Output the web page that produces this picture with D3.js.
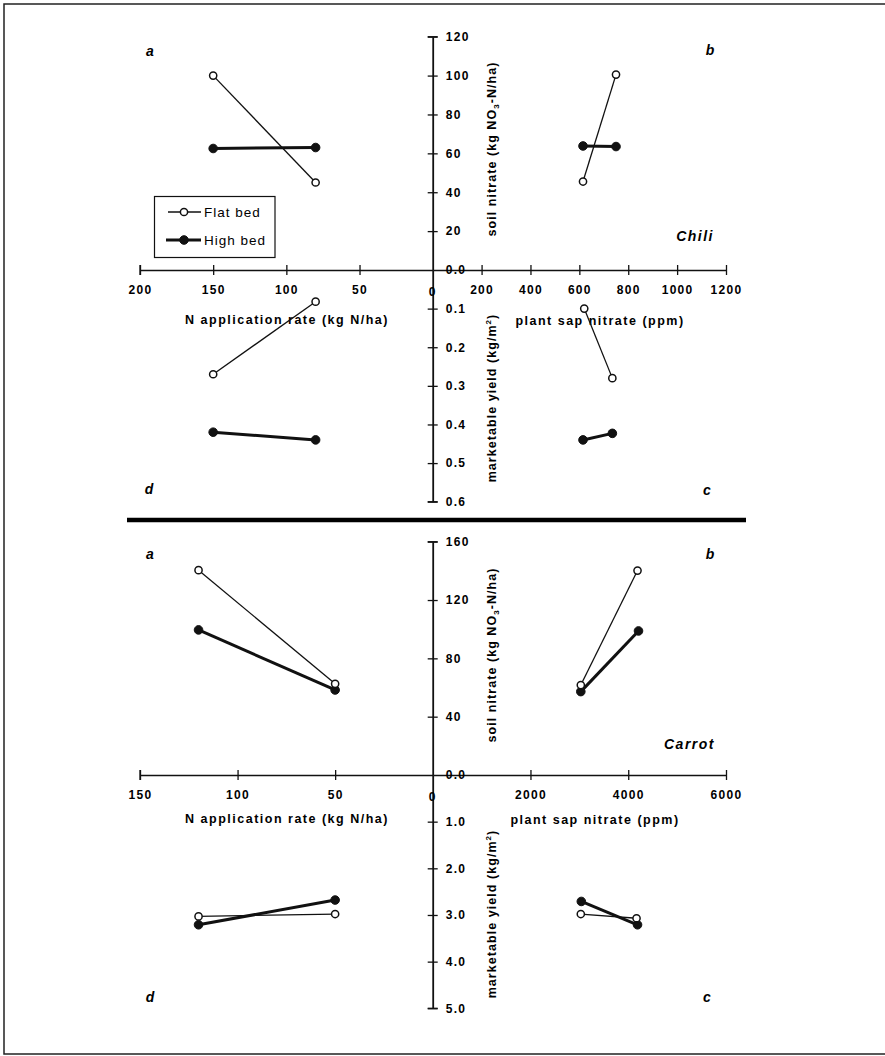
<!DOCTYPE html>
<html>
<head>
<meta charset="utf-8">
<script src="https://cdn.jsdelivr.net/npm/d3@7"></script>
<style>
  html, body { margin: 0; padding: 0; background: #fff; }
  svg { display: block; }
  text { font-family: "Liberation Sans", Arial, Helvetica, sans-serif; fill: #000; }
  .tick text { font-size: 12px; font-weight: bold; letter-spacing: 1.3px; }
  .zero { font-size: 12px; font-weight: bold; letter-spacing: 1.3px; }
  .title { font-size: 12.5px; font-weight: bold; letter-spacing: 1.5px; }
  .vtitle { font-size: 12.5px; font-weight: bold; letter-spacing: 1.05px; }
  .tag { font-size: 14px; font-weight: bold; font-style: italic; }
  .crop { font-size: 14px; font-weight: bold; font-style: italic; letter-spacing: 1.5px; }
  .legend text { font-size: 13.5px; letter-spacing: 1px; }
</style>
</head>
<body>
<svg id="chart" width="885" height="1056"></svg>
<script>
// ---------- Chili ----------
const chiliRate = [150, 80];                 // N application rate (kg N/ha)
const chiliRateTicks = [200, 150, 100, 50];
const chiliSapTicks = [200, 400, 600, 800, 1000, 1200];
const chiliSoilTicks = [20, 40, 60, 80, 100, 120];
const chiliYieldTicks = [0.1, 0.2, 0.3, 0.4, 0.5, 0.6];
// quadrant a: N rate vs soil nitrate
const chiliFlatSoilA = [100, 45];
const chiliHighSoilA = [62.5, 63];
// quadrant b: sap nitrate vs soil nitrate
const chiliFlatSapB = [750, 615];
const chiliFlatSoilB = [100.5, 45.5];
const chiliHighSapB = [750, 615];
const chiliHighSoilB = [63.5, 63.8];
// quadrant c: sap nitrate vs yield
const chiliFlatSapC = [735, 620];
const chiliFlatYieldC = [0.28, 0.10];
const chiliHighSapC = [735, 615];
const chiliHighYieldC = [0.423, 0.44];
// quadrant d: N rate vs yield
const chiliFlatYieldD = [0.27, 0.082];
const chiliHighYieldD = [0.42, 0.44];

// ---------- Carrot ----------
const carrotRate = [120, 50];
const carrotRateTicks = [150, 100, 50];
const carrotSapTicks = [2000, 4000, 6000];
const carrotSoilTicks = [40, 80, 120, 160];
const carrotYieldTicks = [1, 2, 3, 4, 5];
const carrotFlatSoilA = [140.5, 62.5];
const carrotHighSoilA = [99.5, 58.3];
const carrotFlatSapB = [4190, 3030];
const carrotFlatSoilB = [140.2, 61.7];
const carrotHighSapB = [4210, 3030];
const carrotHighSoilB = [98.8, 57.2];
const carrotFlatSapC = [4170, 3030];
const carrotFlatYieldC = [3.07, 2.98];
const carrotHighSapC = [4190, 3040];
const carrotHighYieldC = [3.21, 2.71];
const carrotFlatYieldD = [3.03, 2.98];
const carrotHighYieldD = [3.21, 2.68];

const seriesNames = ["Flat bed", "High bed"];

const svg = d3.select("#chart");

// page frame and the rule separating the two crops
svg.append("path")
  .attr("d", "M885,4 L4,4 L4,1054 L885,1054")
  .attr("fill", "none").attr("stroke", "#222").attr("stroke-width", 1.5);
svg.append("line")
  .attr("x1", 127).attr("x2", 746).attr("y1", 520).attr("y2", 520)
  .attr("stroke", "#000").attr("stroke-width", 4.5);

function drawCrop(cfg) {
  const g = svg.append("g");
  const ox = 432.7, oy = cfg.originY;

  const xRate = d3.scaleLinear().domain([0, cfg.rateMax]).range([ox, 140]);
  const xSap = d3.scaleLinear().domain([0, cfg.sapMax]).range([ox, 726]);
  const ySoil = d3.scaleLinear().domain([0, cfg.soilMax]).range([oy, cfg.soilTop]);
  const yYield = d3.scaleLinear().domain([0, cfg.yieldMax]).range([oy, cfg.yieldBottom]);

  // horizontal axis, left half (N rate)
  const axRate = g.append("g").attr("transform", `translate(0,${oy})`)
    .call(d3.axisBottom(xRate).tickValues(cfg.rateTicks).tickSizeInner(5).tickSizeOuter(0).tickPadding(10));
  // horizontal axis, right half (sap nitrate)
  const axSap = g.append("g").attr("transform", `translate(0,${oy})`)
    .call(d3.axisBottom(xSap).tickValues(cfg.sapTicks).tickSizeInner(5).tickSizeOuter(0).tickPadding(10)
      .tickFormat(d3.format("d")));
  [axRate, axSap].forEach(a => {
    a.select(".domain").attr("stroke", "#111").attr("stroke-width", 1.3);
    a.selectAll(".tick line").attr("y1", -5).attr("stroke", "#111").attr("stroke-width", 1.3);
  });
  // left end cap of the N rate axis
  g.append("line").attr("x1", 140).attr("x2", 140).attr("y1", oy - 5).attr("y2", oy + 5)
    .attr("stroke", "#111").attr("stroke-width", 1.3);

  // vertical axis, upper half (soil nitrate)
  const axSoil = g.append("g").attr("transform", `translate(${ox},0)`)
    .call(d3.axisRight(ySoil).tickValues(cfg.soilTicks).tickSizeInner(5).tickSizeOuter(0).tickPadding(8)
      .tickFormat(d3.format("d")));
  // vertical axis, lower half (yield)
  const axYield = g.append("g").attr("transform", `translate(${ox},0)`)
    .call(d3.axisRight(yYield).tickValues(cfg.yieldTicks).tickSizeInner(5).tickSizeOuter(0).tickPadding(8)
      .tickFormat(d3.format(cfg.yieldFmt)));
  [axSoil, axYield].forEach(a => {
    a.select(".domain").attr("stroke", "#111").attr("stroke-width", 1.8);
    a.selectAll(".tick line").attr("x1", -5).attr("stroke", "#111").attr("stroke-width", 1.3);
  });
  g.selectAll(".tick text").attr("fill", "#000").attr("font-size", null).attr("font-family", null);
  [cfg.soilTop, cfg.yieldBottom].forEach(y => {
    g.append("line").attr("x1", ox - 5).attr("x2", ox + 5).attr("y1", y).attr("y2", y)
      .attr("stroke", "#111").attr("stroke-width", 1.3);
  });

  // zero labels at the origin
  g.append("text").attr("class", "zero").attr("x", ox + 13).attr("y", oy + 4).text("0.0");
  g.append("text").attr("class", "zero").attr("x", ox).attr("y", oy + 26)
    .attr("text-anchor", "middle").attr("letter-spacing", 0).text("0");

  // axis titles
  g.append("text").attr("class", "title").attr("x", 287).attr("y", oy + cfg.titleDy)
    .attr("text-anchor", "middle").text("N application rate (kg N/ha)");
  g.append("text").attr("class", "title").attr("x", cfg.sapTitleX).attr("y", oy + cfg.titleDy + 1)
    .attr("text-anchor", "middle").text("plant sap nitrate (ppm)");
  const soilT = g.append("text").attr("class", "vtitle")
    .attr("transform", `translate(496,${cfg.soilTitleY}) rotate(-90)`).attr("text-anchor", "middle");
  soilT.append("tspan").text("soil nitrate (kg NO");
  soilT.append("tspan").attr("font-size", 8).attr("dy", 3).text("3");
  soilT.append("tspan").attr("dy", -3).text("-N/ha)");
  const yieldT = g.append("text").attr("class", "vtitle")
    .attr("transform", `translate(496,${cfg.yieldTitleY}) rotate(-90)`).attr("text-anchor", "middle");
  yieldT.append("tspan").text("marketable yield (kg/m");
  yieldT.append("tspan").attr("font-size", 8).attr("dy", -5).text("2");
  yieldT.append("tspan").attr("dy", 5).text(")");

  // quadrant letters and crop name
  cfg.tags.forEach(t => {
    g.append("text").attr("class", "tag").attr("x", t.x).attr("y", t.y).attr("text-anchor", "middle").text(t.label);
  });
  g.append("text").attr("class", "crop").attr("x", cfg.cropX).attr("y", cfg.cropY)
    .attr("text-anchor", "end").text(cfg.crop);

  // series: each quadrant pairs its own x and y readings
  const quads = [
    { x: cfg.rate, xs: xRate, ys: ySoil, flatY: cfg.flatSoilA, highY: cfg.highSoilA },
    { x: null, xs: xSap, ys: ySoil, flatX: cfg.flatSapB, flatY: cfg.flatSoilB, highX: cfg.highSapB, highY: cfg.highSoilB },
    { x: null, xs: xSap, ys: yYield, flatX: cfg.flatSapC, flatY: cfg.flatYieldC, highX: cfg.highSapC, highY: cfg.highYieldC },
    { x: cfg.rate, xs: xRate, ys: yYield, flatY: cfg.flatYieldD, highY: cfg.highYieldD }
  ];
  quads.forEach(q => {
    const high = (q.highX || q.x).map((v, i) => [q.xs(v), q.ys(q.highY[i])]);
    const flat = (q.flatX || q.x).map((v, i) => [q.xs(v), q.ys(q.flatY[i])]);
    drawSeries(g, high, true);
    drawSeries(g, flat, false);
  });
}

function drawSeries(g, pts, filled) {
  g.append("path").attr("d", d3.line()(pts)).attr("fill", "none")
    .attr("stroke", "#111").attr("stroke-width", filled ? 3 : 1.3);
  g.selectAll(null).data(pts).enter().append("circle")
    .attr("cx", d => d[0]).attr("cy", d => d[1])
    .attr("r", filled ? 4.3 : 3.6)
    .attr("fill", filled ? "#111" : "#fff")
    .attr("stroke", "#111").attr("stroke-width", filled ? 1 : 1.5);
}

drawCrop({
  crop: "Chili", cropX: 714, cropY: 241,
  originY: 270, soilTop: 36.7, yieldBottom: 501.7,
  rateMax: 200, sapMax: 1200, soilMax: 120, yieldMax: 0.6, yieldFmt: ".1f",
  rateTicks: chiliRateTicks, sapTicks: chiliSapTicks, soilTicks: chiliSoilTicks, yieldTicks: chiliYieldTicks,
  titleDy: 54, sapTitleX: 600, soilTitleY: 149, yieldTitleY: 398,
  tags: [{ label: "a", x: 150, y: 56 }, { label: "b", x: 710, y: 55 }, { label: "d", x: 149, y: 494 }, { label: "c", x: 707, y: 495 }],
  rate: chiliRate,
  flatSoilA: chiliFlatSoilA, highSoilA: chiliHighSoilA,
  flatSapB: chiliFlatSapB, flatSoilB: chiliFlatSoilB, highSapB: chiliHighSapB, highSoilB: chiliHighSoilB,
  flatSapC: chiliFlatSapC, flatYieldC: chiliFlatYieldC, highSapC: chiliHighSapC, highYieldC: chiliHighYieldC,
  flatYieldD: chiliFlatYieldD, highYieldD: chiliHighYieldD
});

drawCrop({
  crop: "Carrot", cropX: 715, cropY: 749,
  originY: 775, soilTop: 541.7, yieldBottom: 1008.3,
  rateMax: 150, sapMax: 6000, soilMax: 160, yieldMax: 5, yieldFmt: ".1f",
  rateTicks: carrotRateTicks, sapTicks: carrotSapTicks, soilTicks: carrotSoilTicks, yieldTicks: carrotYieldTicks,
  titleDy: 48, sapTitleX: 595, soilTitleY: 655, yieldTitleY: 914,
  tags: [{ label: "a", x: 150, y: 559 }, { label: "b", x: 710, y: 559 }, { label: "d", x: 150, y: 1002 }, { label: "c", x: 707, y: 1002 }],
  rate: carrotRate,
  flatSoilA: carrotFlatSoilA, highSoilA: carrotHighSoilA,
  flatSapB: carrotFlatSapB, flatSoilB: carrotFlatSoilB, highSapB: carrotHighSapB, highSoilB: carrotHighSoilB,
  flatSapC: carrotFlatSapC, flatYieldC: carrotFlatYieldC, highSapC: carrotHighSapC, highYieldC: carrotHighYieldC,
  flatYieldD: carrotFlatYieldD, highYieldD: carrotHighYieldD
});

// legend
const lg = svg.append("g").attr("class", "legend");
lg.append("rect").attr("x", 154.5).attr("y", 196.5).attr("width", 120.5).attr("height", 61)
  .attr("fill", "#fff").attr("stroke", "#111").attr("stroke-width", 1.2);
seriesNames.forEach((name, i) => {
  const filled = i === 1;
  const y = 212 + i * 28;
  lg.append("line").attr("x1", filled ? 166 : 168).attr("x2", 201).attr("y1", y).attr("y2", y)
    .attr("stroke", "#111").attr("stroke-width", filled ? 3 : 1.3);
  lg.append("circle").attr("cx", 184).attr("cy", y).attr("r", filled ? 4.3 : 3.6)
    .attr("fill", filled ? "#111" : "#fff").attr("stroke", "#111").attr("stroke-width", filled ? 1 : 1.5);
  lg.append("text").attr("x", 204).attr("y", y + 4.5).text(name);
});
</script>
</body>
</html>
